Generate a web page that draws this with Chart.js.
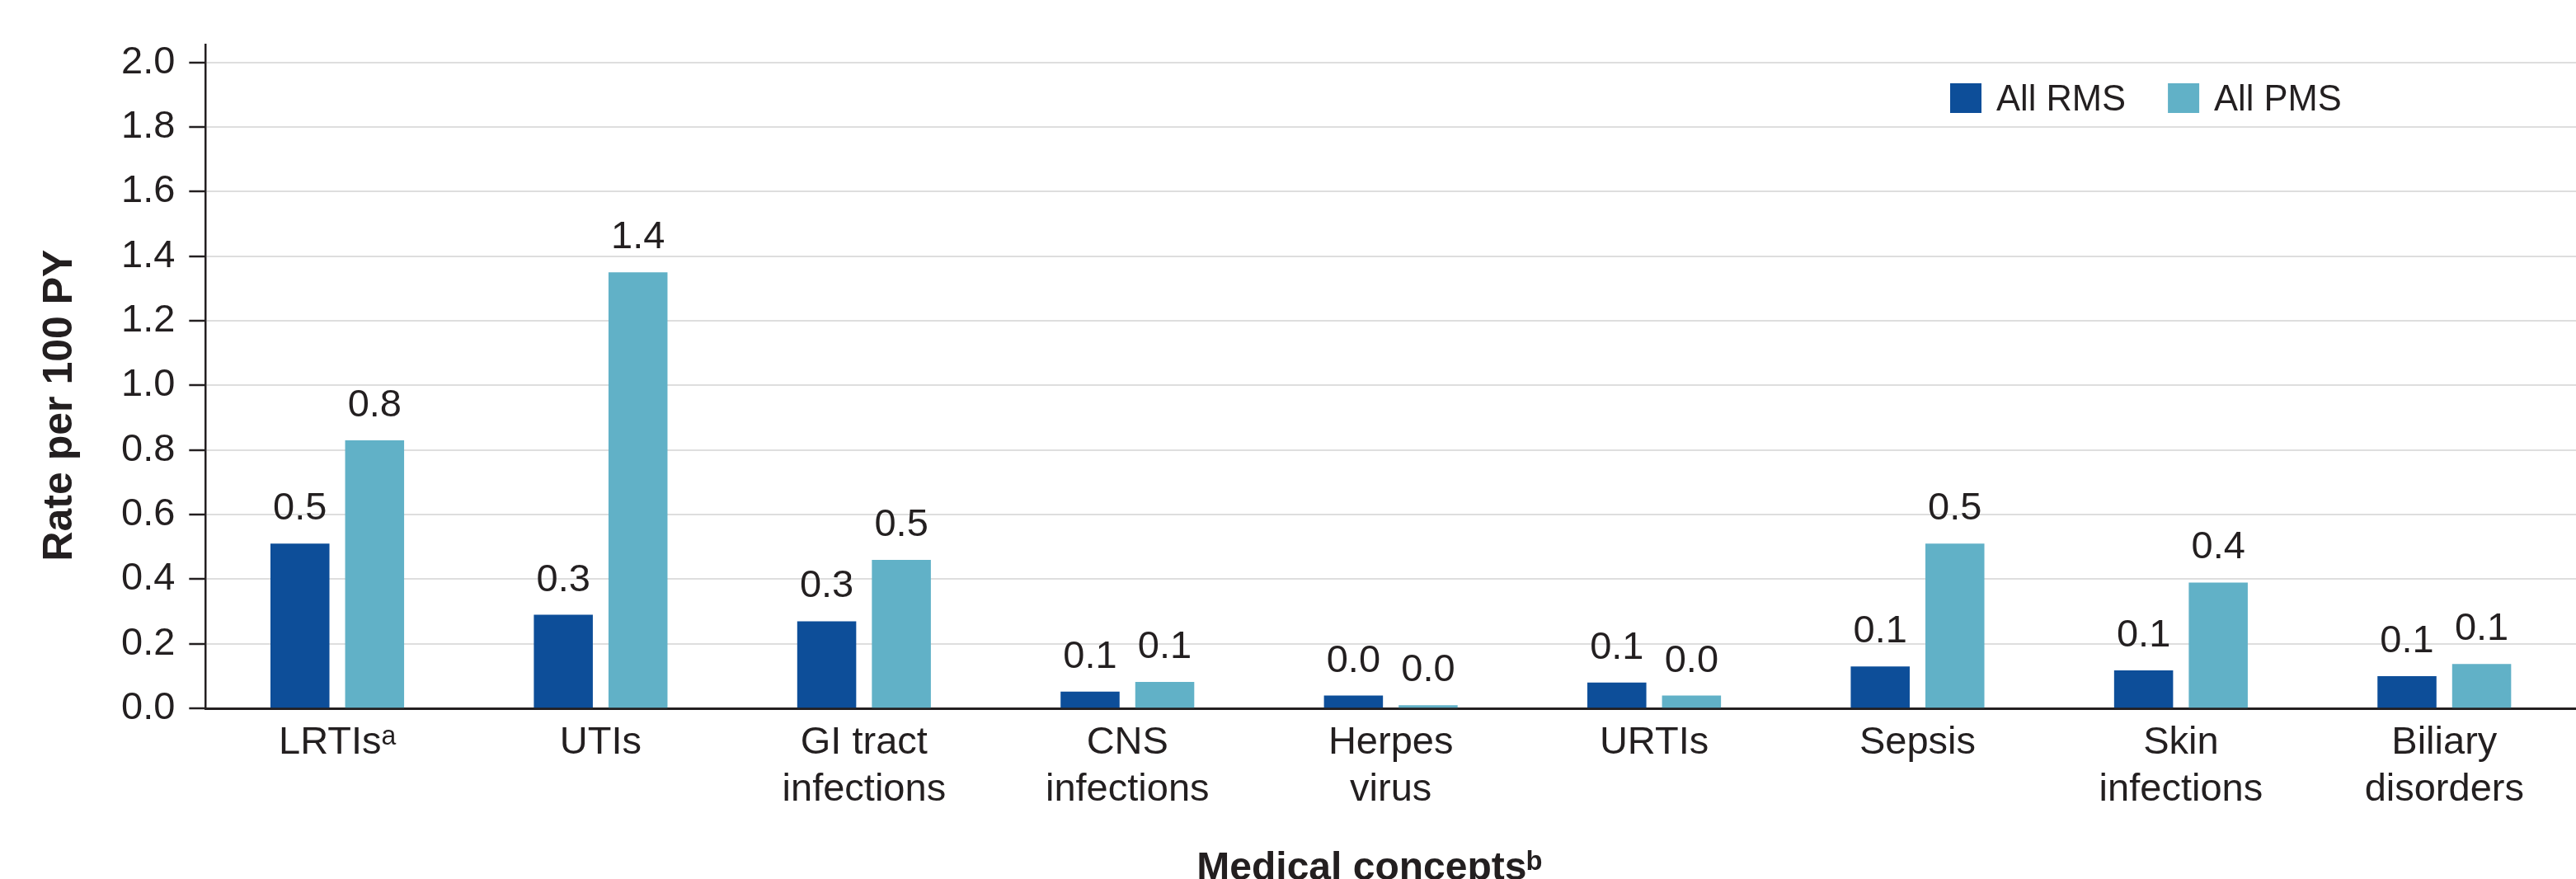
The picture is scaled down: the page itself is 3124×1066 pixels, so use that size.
<!DOCTYPE html>
<html>
<head>
<meta charset="utf-8">
<title>Infection rates per 100 PY by medical concept</title>
<script src="https://cdn.jsdelivr.net/npm/chart.js@4/dist/chart.umd.min.js"></script>
<style>
  html, body { margin: 0; padding: 0; background: #ffffff; }
  canvas { display: block; }
</style>
</head>
<body>
<canvas id="chart" width="3124" height="1066"></canvas>
<script>
// Medical concepts on the category axis (ᵃ / ᵇ are footnote markers)
const categories = [
  'LRTIsᵃ',
  'UTIs',
  ['GI tract', 'infections'],
  ['CNS', 'infections'],
  ['Herpes', 'virus'],
  'URTIs',
  'Sepsis',
  ['Skin', 'infections'],
  ['Biliary', 'disorders']
];

const seriesNames = ['All RMS', 'All PMS'];

// Rate per 100 patient-years
const rmsRates = [0.51, 0.29, 0.27, 0.052, 0.04, 0.08, 0.13, 0.118, 0.10];
const pmsRates = [0.83, 1.35, 0.46, 0.082, 0.01, 0.04, 0.51, 0.39, 0.138];

const yTickLabels = ['0.0', '0.2', '0.4', '0.6', '0.8', '1.0', '1.2', '1.4', '1.6', '1.8', '2.0'];

const yTitle = 'Rate per 100 PY';
const xTitle = 'Medical conceptsᵇ';

const seriesColors = ['#0d4e99', '#61b1c7'];
const INK = '#231f20';
const FONT = "'Liberation Sans', Arial, Helvetica, sans-serif";

Chart.defaults.font.family = FONT;
Chart.defaults.color = INK;

// Rounded value printed above every bar
const valueLabels = {
  id: 'valueLabels',
  afterDatasetsDraw(chart) {
    const ctx = chart.ctx;
    ctx.save();
    ctx.font = '47px ' + FONT;
    ctx.fillStyle = INK;
    ctx.textAlign = 'center';
    ctx.textBaseline = 'alphabetic';
    chart.data.datasets.forEach((ds, i) => {
      const meta = chart.getDatasetMeta(i);
      meta.data.forEach((bar, j) => {
        ctx.fillText(Number(ds.data[j]).toFixed(1), bar.x, bar.y - 29);
      });
    });
    ctx.restore();
  }
};

// Single-row legend sitting inside the plot, near its top right
const legendRow = {
  id: 'legendRow',
  afterDraw(chart) {
    const ctx = chart.ctx;
    const area = chart.chartArea;
    const boxW = 38, boxH = 36, gap = 18, itemGap = 51;
    let x = area.right - 759;
    const boxTop = area.top + 47;
    ctx.save();
    ctx.font = '43.5px ' + FONT;
    ctx.textAlign = 'left';
    ctx.textBaseline = 'alphabetic';
    chart.data.datasets.forEach((ds) => {
      ctx.fillStyle = ds.backgroundColor;
      ctx.fillRect(x, boxTop, boxW, boxH);
      ctx.fillStyle = INK;
      ctx.fillText(ds.label, x + boxW + gap, boxTop + 32.5);
      x += boxW + gap + ctx.measureText(ds.label).width + itemGap;
    });
    ctx.restore();
  }
};

// Axis titles
const axisTitles = {
  id: 'axisTitles',
  afterDraw(chart) {
    const ctx = chart.ctx;
    const area = chart.chartArea;
    ctx.save();
    ctx.fillStyle = INK;

    ctx.font = 'bold 50px ' + FONT;
    ctx.translate(area.left - 176, (area.top + area.bottom) / 2 + 35);
    ctx.rotate(-Math.PI / 2);
    ctx.textAlign = 'center';
    ctx.textBaseline = 'middle';
    ctx.fillText(yTitle, 0, 0);
    ctx.setTransform(1, 0, 0, 1, 0, 0);

    ctx.font = 'bold 48px ' + FONT;
    ctx.textAlign = 'left';
    ctx.textBaseline = 'alphabetic';
    ctx.fillText(xTitle, area.left + 1202, area.bottom + 208);
    ctx.restore();
  }
};

new Chart(document.getElementById('chart'), {
  type: 'bar',
  data: {
    labels: categories,
    datasets: [
      {
        label: seriesNames[0],
        data: rmsRates,
        backgroundColor: seriesColors[0],
        borderWidth: 0,
        categoryPercentage: 0.567,
        barPercentage: 0.79
      },
      {
        label: seriesNames[1],
        data: pmsRates,
        backgroundColor: seriesColors[1],
        borderWidth: 0,
        categoryPercentage: 0.567,
        barPercentage: 0.79
      }
    ]
  },
  options: {
    responsive: false,
    animation: false,
    layout: {
      padding: { top: 54, left: 130, right: 0, bottom: 66 }
    },
    plugins: {
      legend: { display: false },
      tooltip: { enabled: false },
      title: { display: false }
    },
    scales: {
      x: {
        grid: { display: false, drawTicks: false, drawOnChartArea: false },
        border: { display: true, color: INK, width: 3 },
        ticks: {
          color: INK,
          font: { size: 47, lineHeight: 1.2 },
          padding: 14,
          maxRotation: 0,
          autoSkip: false
        }
      },
      y: {
        min: 0,
        max: 2.055,
        afterBuildTicks(scale) {
          scale.ticks = yTickLabels.map((t) => ({ value: parseFloat(t) }));
        },
        grid: {
          color: '#dedede',
          lineWidth: 2,
          drawTicks: true,
          tickLength: 20,
          tickColor: INK,
          tickWidth: 2.5
        },
        border: { display: true, color: INK, width: 2.5 },
        ticks: {
          color: INK,
          font: { size: 47 },
          padding: 17,
          callback(value) {
            const i = yTickLabels.findIndex((t) => Math.abs(parseFloat(t) - value) < 1e-9);
            return i >= 0 ? yTickLabels[i] : '';
          }
        }
      }
    }
  },
  plugins: [valueLabels, legendRow, axisTitles]
});
</script>
</body>
</html>
